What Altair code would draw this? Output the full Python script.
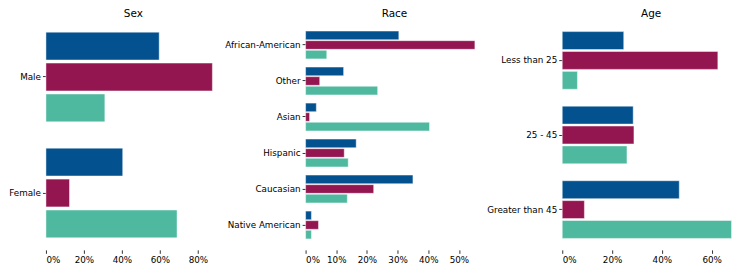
import altair as alt
import pandas as pd

series = ["Series A", "Series B", "Series C"]
colors = ["#03528f", "#941651", "#4fb99f"]

sex_cats = ["Male", "Female"]
sex_a = [59.6, 40.4]
sex_b = [87.6, 12.4]
sex_c = [31.0, 69.0]

race_cats = ["African-American", "Other", "Asian", "Hispanic", "Caucasian", "Native American"]
race_a = [30.4, 12.4, 3.5, 16.5, 35.0, 1.9]
race_b = [55.2, 4.6, 1.3, 12.6, 22.2, 4.2]
race_c = [6.9, 23.5, 40.4, 13.9, 13.6, 1.9]

age_cats = ["Less than 25", "25 - 45", "Greater than 45"]
age_a = [24.7, 28.5, 47.0]
age_b = [62.5, 28.8, 8.9]
age_c = [6.1, 26.0, 68.0]

sex_ticks = [0, 0.2, 0.4, 0.6, 0.8]
race_ticks = [0, 0.1, 0.2, 0.3, 0.4, 0.5]
age_ticks = [0, 0.2, 0.4, 0.6]

FONT = "DejaVu Sans"


def panel(title, cats, a, b, c, ticks, extent, pad_outer, width):
    rows = []
    for i, cat in enumerate(cats):
        for s, v in zip(series, (a[i], b[i], c[i])):
            rows.append({"cat": cat, "series": s, "value": v / 100})
    df = pd.DataFrame(rows)
    xmax = max(a + b + c) / 100 * 1.05
    return alt.Chart(
        df,
        title=alt.TitleParams(title, fontSize=10.5, font=FONT, fontWeight="normal",
                              anchor="middle", offset=1, color="black"),
    ).mark_bar(stroke="white", strokeOpacity=0.45, strokeWidth=1).encode(
        x=alt.X("value:Q",
                scale=alt.Scale(domain=[0, xmax], nice=False, zero=True),
                axis=alt.Axis(values=ticks, format=".0%", title=None)),
        y=alt.Y("cat:N", sort=cats,
                scale=alt.Scale(paddingInner=0.2, paddingOuter=pad_outer),
                axis=alt.Axis(title=None, minExtent=extent, maxExtent=extent)),
        yOffset=alt.YOffset("series:N", sort=series,
                            scale=alt.Scale(paddingInner=0.1, paddingOuter=0.05)),
        color=alt.Color("series:N", scale=alt.Scale(domain=series, range=colors), legend=None),
    ).properties(width=width, height=230)


p1 = panel("Sex", sex_cats, sex_a, sex_b, sex_c, sex_ticks, 38, 0.09, 175)
p2 = panel("Race", race_cats, race_a, race_b, race_c, race_ticks, 85, 0.29, 178)
p3 = panel("Age", age_cats, age_a, age_b, age_c, age_ticks, 79, 0.14, 178)

chart = alt.hconcat(p1, p2, p3, spacing=0).resolve_scale(
    x="independent", y="independent", yOffset="independent",
).properties(
    padding=0,
).configure_view(stroke=None).configure_axis(
    domain=False, grid=False, labelFont=FONT, labelFontSize=8.8, labelColor="black",
    tickColor="black", tickSize=3.5, tickWidth=0.8, labelPadding=2,
).configure_concat(spacing=0)

chart.save("out.html", embed_options={"renderer": "svg", "actions": False})
